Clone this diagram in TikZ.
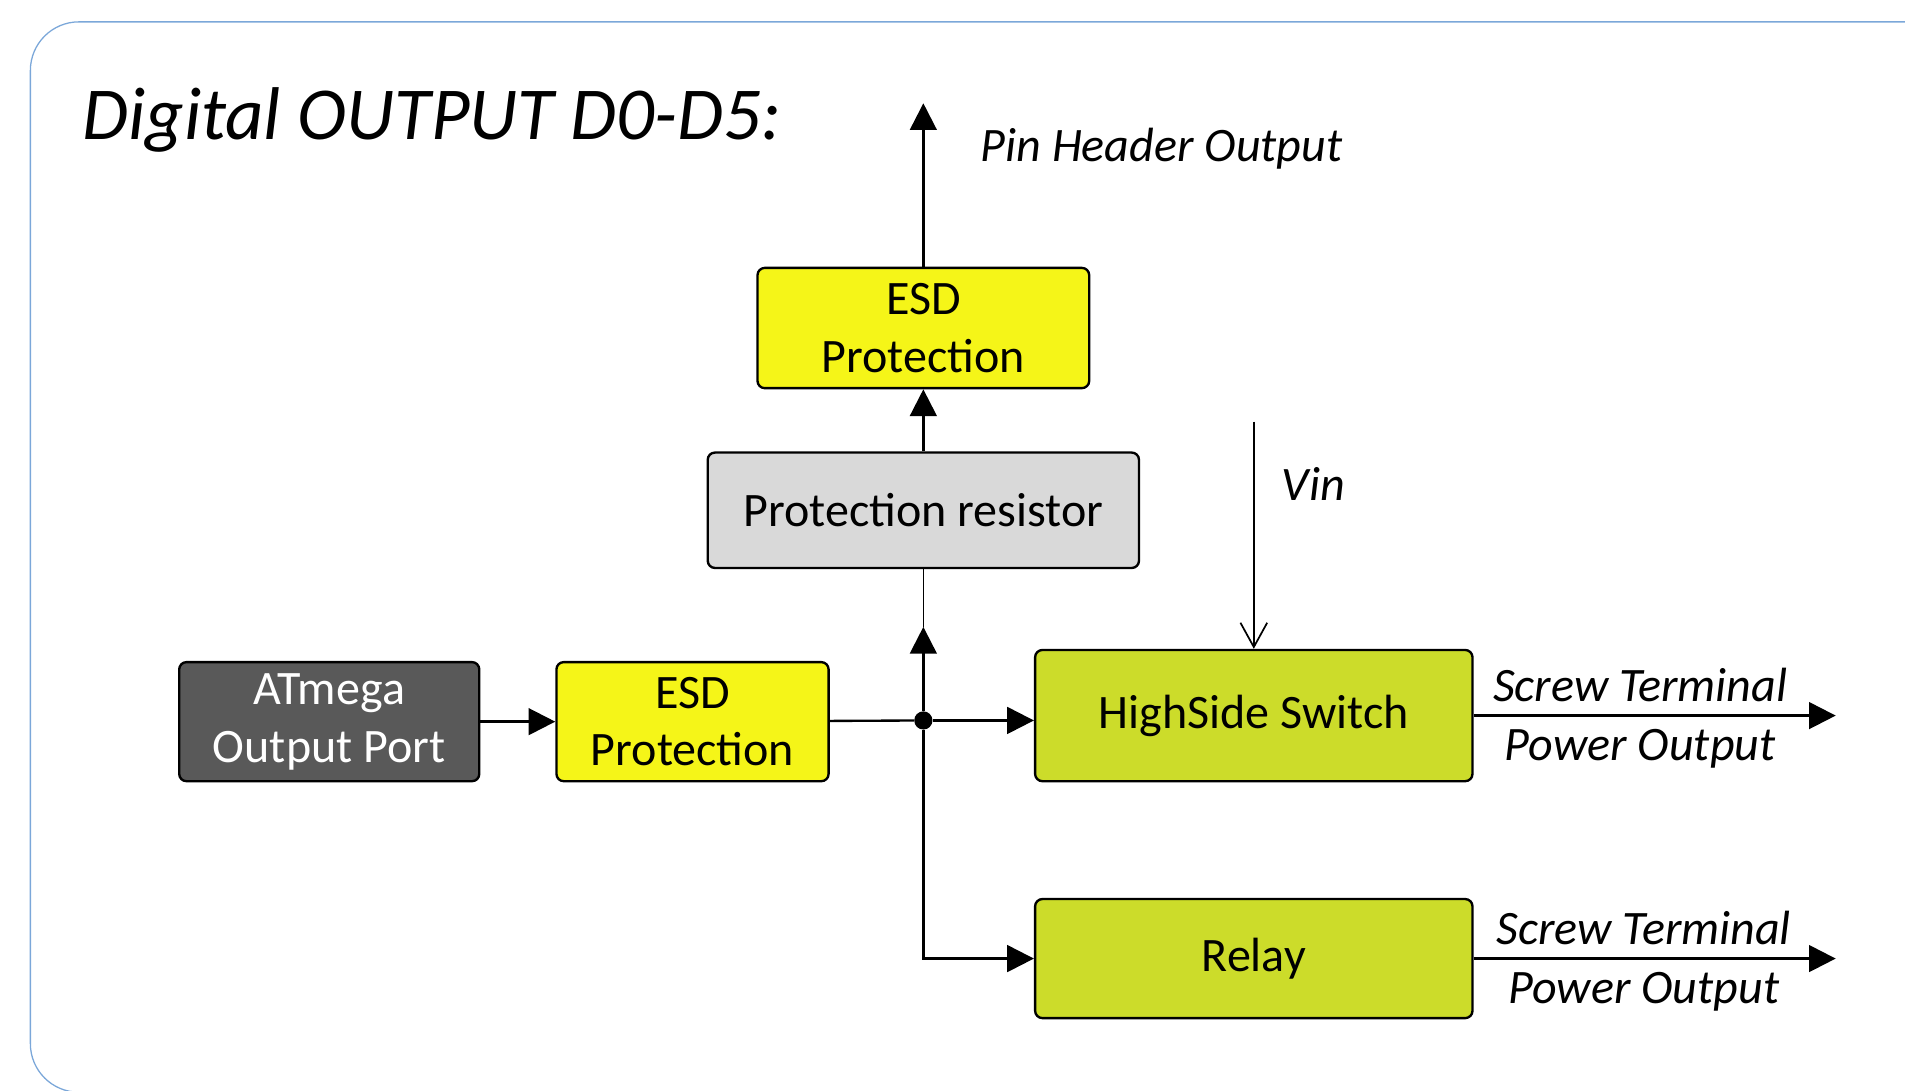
\documentclass[tikz,border=0pt]{standalone}
\usepackage{fontspec}
\setmainfont{Carlito}
\usepackage{tikz}
\usetikzlibrary{arrows.meta}
\usetikzlibrary{calc}

\definecolor{esdyellow}{HTML}{F5F518}
\definecolor{swgreen}{HTML}{CCDC2A}
\definecolor{resgray}{HTML}{D9D9D9}
\definecolor{portgray}{HTML}{595959}
\definecolor{frameblue}{HTML}{7BA7D9}

\begin{document}
\begin{tikzpicture}[x=0.2mm, y=-0.2mm,
	block/.style={draw=black, line width=1.1pt, rounded corners=1.2mm, align=center, inner sep=0pt, font=\fontsize{22.5}{27}\selectfont},
	lbl/.style={font=\fontsize{22.5}{27}\selectfont\itshape, inner sep=2mm},
	conn/.style={line width=1.1pt, -{Triangle[length=4.4mm,width=4.4mm]}}]

\useasboundingbox (0,0) rectangle (1568,898);
\begin{scope}
	\clip (0,0) rectangle (1568,898);
	\draw[frameblue, line width=0.6pt, rounded corners=8mm] (25,18) rectangle (1640,899);
\end{scope}

\node[anchor=base west, font=\fontsize{35}{42}\selectfont\itshape] (title) at (62,115) {Digital OUTPUT D0-D5:};

\node[block, fill=esdyellow, minimum width=54.6mm, minimum height=19.8mm] (esdtop) at (760,270) {ESD\\Protection};
\node[block, fill=resgray, minimum width=71mm, minimum height=19mm] (res) at (760,420) {Protection resistor};
\node[block, fill=portgray, text=white, minimum width=49.4mm, minimum height=19.6mm] (port) at (271,594) {ATmega\\Output Port};
\node[block, fill=esdyellow, minimum width=44.8mm, minimum height=19.6mm] (esd) at (570,594) {ESD\\Protection};
\node[block, fill=swgreen, minimum width=72mm, minimum height=21.6mm] (hss) at (1032,589) {HighSide Switch};
\node[block, fill=swgreen, minimum width=72mm, minimum height=19.6mm] (relay) at (1032,789) {Relay};

\node[circle, fill=black, inner sep=0pt, minimum size=3mm] (jn) at (760,593) {};
\coordinate (pin) at (760,85);
\coordinate (vin) at (1032,347);
\coordinate (mid) at (760,516);
\coordinate (out1) at ($(hss.east)+(298,0)$);
\coordinate (out2) at ($(relay.east)+(298,0)$);

\node[lbl] (pinlbl) at (956,122) {Pin Header Output};
\node[lbl] (vinlbl) at (1081,398) {Vin};

\draw[line width=1.1pt] (esd) -- (jn);
\draw[line width=0.7pt] (mid) -- (res);
\draw[line width=0.8pt, -{Straight Barb[length=4mm,width=4.4mm]}] (vin) -- (hss);
\draw[conn] (jn) |- (relay);

\path[conn]
(port) edge (esd)
(jn) edge (jn -| hss.west)
(jn) edge (mid)
(res) edge (esdtop)
(esdtop) edge (pin)
(hss.east) edge node[lbl, above, pos=0.46] {Screw Terminal} node[lbl, below, pos=0.46] {Power Output} (out1)
(relay.east) edge node[lbl, above, pos=0.47] {Screw Terminal} node[lbl, below, pos=0.47] {Power Output} (out2)
;
\end{tikzpicture}
\end{document}
